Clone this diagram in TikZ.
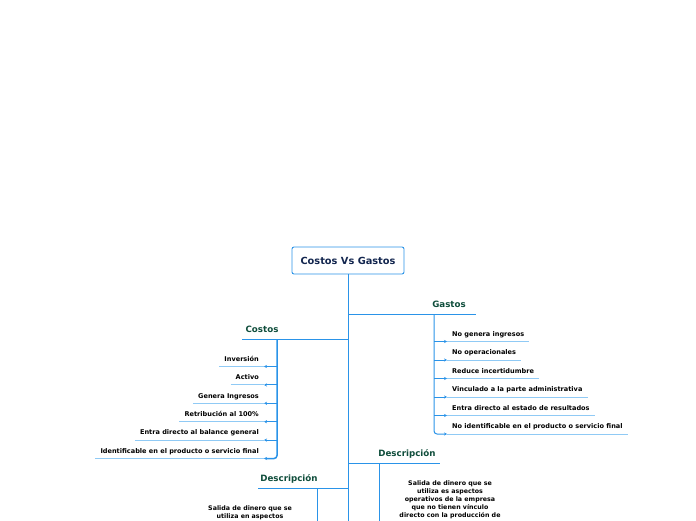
\documentclass[tikz,border=0pt]{standalone}
\usepackage{fontspec}
\setmainfont{DejaVu Sans}
\usetikzlibrary{arrows.meta}
\definecolor{linkblue}{HTML}{2A93E8}
\definecolor{lightblue}{HTML}{90CAF5}
\definecolor{headgreen}{HTML}{0F4D3B}
\definecolor{titlenavy}{HTML}{13264F}
\begin{document}
\begin{tikzpicture}[x=1pt,y=-1pt,
  link/.style={draw=linkblue, line width=1pt},
  under/.style={draw=lightblue, line width=1pt},
  tip/.style={-{Stealth[length=3pt,width=3.2pt]}},
  leaf/.style={font=\fontsize{6.55}{8}\selectfont\bfseries, inner xsep=5pt, inner ysep=0pt, text height=5pt, text depth=5pt},
  heading/.style={font=\fontsize{8.7}{10}\selectfont\bfseries, text=headgreen, inner sep=0pt},
  titlebox/.style={draw=linkblue, line width=0.9pt, rounded corners=2pt, fill=white, text=titlenavy,
    font=\fontsize{9.8}{12}\selectfont\bfseries, minimum width=112pt, minimum height=27pt, inner sep=0pt},
  desc/.style={font=\fontsize{6.3}{8}\selectfont\bfseries, align=center, inner sep=0pt}]
\useasboundingbox (0,0) rectangle (696,520);

% root
\node[titlebox] (root) at (348,260.5) {Costos Vs Gastos};
\coordinate (mainend) at (348,521);
\draw[link] (root.south) -- (mainend);

% Gastos
\coordinate (gj) at (348,314);
\coordinate (gend) at (476,314);
\coordinate (gv) at (434,314);
\draw[link] (gj) -- (gend);
\node[heading, anchor=base] (gastos) at (449,307.5) {Gastos};
\foreach \t [count=\i] in {No genera ingresos, No operacionales, Reduce incertidumbre,
    Vinculado a la parte administrativa, Entra directo al estado de resultados,
    No identificable en el producto o servicio final}{
  \node[leaf, anchor=south west] (g\i) at (447,{341.5+18.5*(\i-1)}) {\t};
  \draw[under] (g\i.south west) -- (g\i.south east);
}
\foreach \i in {1,...,5}{
  \draw[link, tip] (gv |- g\i.south west) -- (g\i.south west);
}
\draw[link, tip, rounded corners=3pt] (gv) |- (g6.south west);

% Costos
\coordinate (cj) at (348,339);
\coordinate (cend) at (242,339);
\coordinate (cv) at (277,339);
\draw[link] (cj) -- (cend);
\node[heading, anchor=base] (costos) at (262,332.5) {Costos};
\foreach \t [count=\i] in {Inversión, Activo, Genera Ingresos, Retribución al 100\%,
    Entra directo al balance general, Identificable en el producto o servicio final}{
  \node[leaf, anchor=south east] (c\i) at (264,{366.5+18.4*(\i-1)}) {\t};
  \draw[under] (c\i.south west) -- (c\i.south east);
}
\foreach \i in {1,...,5}{
  \draw[link, tip] (cv |- c\i.south east) -- (c\i.south east);
}
\draw[link, line width=1.5pt, tip, rounded corners=3pt] (cv) |- (c6.south east);

% Descripcion (Gastos side)
\coordinate (dgj) at (348,463);
\coordinate (dgend) at (440,463);
\coordinate (dgv) at (379,463);
\coordinate (dgvend) at (379,521);
\draw[link] (dgj) -- (dgend);
\draw[link] (dgv) -- (dgvend);
\node[heading, anchor=base] (dgh) at (407,456.5) {Descripción};
\node[desc, anchor=north] (dgt) at (450,480.7) {Salida de dinero que se\\utiliza es aspectos\\operativos de la empresa\\que no tienen vínculo\\directo con la producción de};

% Descripcion (Costos side)
\coordinate (dcj) at (348,488);
\coordinate (dcend) at (258,488);
\coordinate (dcv) at (317,488);
\coordinate (dcvend) at (317,521);
\draw[link] (dcj) -- (dcend);
\draw[link] (dcv) -- (dcvend);
\node[heading, anchor=base] (dch) at (289,481.5) {Descripción};
\node[desc, anchor=north] (dct) at (250,505.7) {Salida de dinero que se\\utiliza en aspectos};
\end{tikzpicture}
\end{document}
